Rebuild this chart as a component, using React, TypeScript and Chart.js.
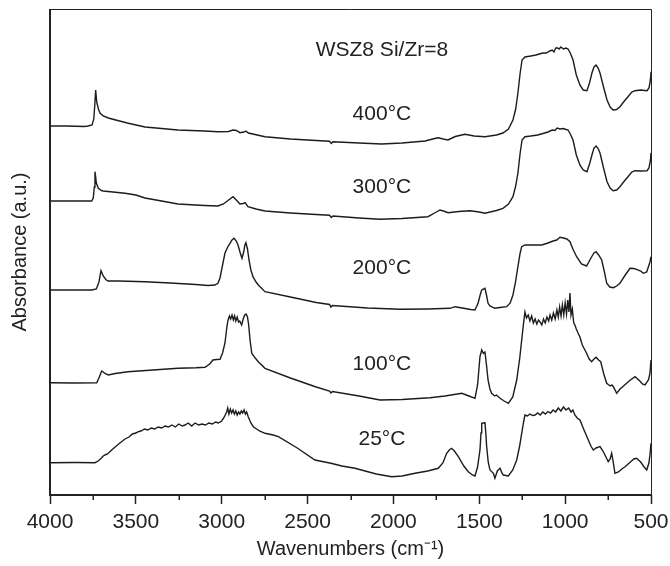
import React, { useEffect, useRef } from "react";
import { Chart, registerables } from "chart.js";

Chart.register(...registerables);

type P = [number, number];

// Spectra: [wavenumber (cm-1), absorbance (a.u., offset stack)]
const T400: P[] = [[4000,3.69],[3900,3.69],[3800,3.685],[3779,3.69],[3755,3.70],[3745,3.76],[3740,3.88],[3734,4.05],[3728,3.93],[3718,3.86],[3709,3.82],[3690,3.79],[3660,3.77],[3639,3.76],[3550,3.72],[3447,3.68],[3350,3.665],[3255,3.65],[3100,3.64],[3022,3.633],[2960,3.635],[2934,3.65],[2915,3.645],[2894,3.623],[2870,3.63],[2859,3.64],[2845,3.62],[2748,3.583],[2600,3.56],[2450,3.545],[2372,3.537],[2362,3.515],[2352,3.533],[2200,3.52],[2068,3.51],[1950,3.52],[1816,3.54],[1760,3.565],[1739,3.573],[1710,3.56],[1682,3.55],[1640,3.585],[1583,3.607],[1530,3.59],[1467,3.583],[1400,3.60],[1362,3.62],[1330,3.66],[1304,3.75],[1288,3.86],[1275,4.02],[1262,4.22],[1251,4.35],[1234,4.38],[1200,4.39],[1170,4.40],[1150,4.41],[1129,4.42],[1110,4.42],[1090,4.44],[1075,4.45],[1065,4.43],[1055,4.47],[1047,4.473],[1035,4.46],[1025,4.48],[1010,4.46],[995,4.47],[983,4.46],[970,4.42],[954,4.35],[935,4.2],[914,4.10],[895,4.05],[873,4.043],[858,4.12],[844,4.22],[832,4.28],[820,4.30],[808,4.27],[797,4.22],[775,4.07],[756,3.95],[738,3.88],[721,3.85],[700,3.855],[681,3.883],[655,3.94],[634,3.983],[612,4.03],[593,4.043],[560,4.05],[523,4.043],[512,4.07],[506,4.12],[502,4.18],[500,4.233]];

const T300: P[] = [[4000,2.94],[3850,2.94],[3757,2.94],[3748,2.97],[3742,3.08],[3738,3.233],[3730,3.12],[3719,3.067],[3700,3.045],[3690,3.04],[3563,3.017],[3500,3.00],[3447,2.97],[3350,2.94],[3255,2.91],[3100,2.895],[3022,2.89],[2990,2.91],[2960,2.95],[2934,2.983],[2915,2.95],[2894,2.91],[2875,2.915],[2864,2.923],[2847,2.883],[2800,2.86],[2748,2.84],[2600,2.82],[2450,2.805],[2372,2.797],[2362,2.775],[2352,2.79],[2200,2.77],[2078,2.757],[1950,2.765],[1799,2.783],[1760,2.82],[1729,2.85],[1700,2.835],[1682,2.823],[1620,2.835],[1554,2.843],[1500,2.83],[1467,2.817],[1400,2.845],[1362,2.867],[1330,2.91],[1304,2.983],[1288,3.09],[1275,3.22],[1262,3.42],[1251,3.55],[1234,3.583],[1200,3.59],[1160,3.60],[1129,3.615],[1100,3.63],[1075,3.65],[1060,3.645],[1047,3.67],[1030,3.66],[1010,3.665],[995,3.655],[983,3.65],[970,3.61],[954,3.55],[935,3.40],[914,3.30],[895,3.25],[873,3.233],[858,3.31],[844,3.40],[832,3.47],[820,3.49],[808,3.465],[797,3.42],[775,3.26],[756,3.133],[738,3.07],[721,3.043],[700,3.05],[681,3.083],[655,3.14],[634,3.183],[612,3.23],[593,3.243],[560,3.24],[523,3.243],[512,3.27],[506,3.32],[502,3.37],[500,3.42]];

const T200: P[] = [[4000,2.05],[3850,2.05],[3757,2.05],[3730,2.06],[3715,2.13],[3703,2.243],[3690,2.19],[3675,2.155],[3662,2.14],[3600,2.14],[3447,2.133],[3300,2.12],[3150,2.105],[3080,2.095],[3040,2.10],[3022,2.117],[3010,2.17],[2995,2.30],[2981,2.42],[2965,2.48],[2952,2.517],[2940,2.55],[2928,2.567],[2915,2.54],[2905,2.50],[2892,2.42],[2882,2.367],[2872,2.43],[2865,2.50],[2859,2.523],[2850,2.46],[2841,2.35],[2830,2.25],[2818,2.183],[2800,2.13],[2787,2.10],[2748,2.033],[2600,1.98],[2450,1.925],[2372,1.905],[2364,1.88],[2355,1.895],[2150,1.87],[1962,1.857],[1800,1.86],[1671,1.867],[1641,1.883],[1600,1.87],[1550,1.855],[1525,1.85],[1507,1.917],[1495,2.00],[1486,2.05],[1467,2.067],[1458,2.00],[1449,1.917],[1438,1.89],[1409,1.867],[1380,1.875],[1340,1.883],[1320,1.92],[1304,2.00],[1290,2.12],[1275,2.283],[1262,2.42],[1253,2.483],[1234,2.50],[1180,2.50],[1136,2.50],[1100,2.52],[1070,2.54],[1049,2.55],[1030,2.577],[1010,2.57],[990,2.56],[972,2.533],[955,2.46],[933,2.383],[905,2.31],[875,2.29],[850,2.37],[832,2.42],[820,2.433],[805,2.40],[787,2.35],[770,2.22],[758,2.117],[740,2.08],[719,2.073],[700,2.09],[681,2.117],[650,2.20],[622,2.267],[600,2.265],[584,2.257],[560,2.24],[545,2.217],[525,2.23],[515,2.283],[506,2.33],[500,2.383]];

const T100: P[] = [[4000,1.123],[3850,1.12],[3728,1.123],[3715,1.17],[3699,1.24],[3690,1.23],[3680,1.215],[3660,1.20],[3620,1.215],[3546,1.233],[3400,1.25],[3255,1.267],[3150,1.272],[3097,1.277],[3070,1.31],[3051,1.35],[3030,1.355],[3010,1.357],[2995,1.42],[2981,1.52],[2970,1.68],[2963,1.75],[2955,1.79],[2948,1.76],[2940,1.80],[2932,1.75],[2925,1.79],[2918,1.74],[2910,1.78],[2902,1.73],[2895,1.74],[2884,1.70],[2875,1.76],[2866,1.80],[2858,1.81],[2850,1.78],[2843,1.70],[2835,1.55],[2825,1.417],[2805,1.37],[2787,1.333],[2748,1.267],[2600,1.17],[2450,1.08],[2372,1.04],[2364,1.02],[2355,1.035],[2200,0.99],[2078,0.95],[1950,0.955],[1787,0.973],[1700,0.99],[1602,1.017],[1560,0.99],[1525,0.967],[1510,1.10],[1496,1.383],[1486,1.45],[1476,1.417],[1467,1.43],[1458,1.30],[1449,1.15],[1438,1.06],[1428,1.017],[1410,0.99],[1400,1.00],[1379,0.967],[1355,0.94],[1331,0.917],[1305,0.98],[1282,1.15],[1265,1.36],[1253,1.55],[1242,1.72],[1234,1.83],[1225,1.77],[1215,1.80],[1205,1.74],[1195,1.79],[1185,1.72],[1175,1.76],[1165,1.71],[1155,1.75],[1146,1.73],[1136,1.70],[1126,1.76],[1116,1.72],[1106,1.78],[1096,1.74],[1088,1.80],[1078,1.75],[1068,1.82],[1058,1.76],[1048,1.85],[1040,1.78],[1032,1.88],[1024,1.79],[1016,1.90],[1008,1.80],[1000,1.92],[992,1.81],[985,1.95],[978,1.83],[972,2.02],[966,1.80],[958,1.86],[950,1.72],[943,1.70],[935,1.66],[925,1.62],[914,1.58],[900,1.50],[888,1.46],[875,1.417],[860,1.36],[846,1.333],[832,1.36],[820,1.377],[805,1.35],[793,1.333],[775,1.21],[758,1.117],[738,1.09],[728,1.10],[719,1.083],[700,1.017],[680,1.06],[660,1.09],[642,1.117],[620,1.15],[593,1.183],[565,1.14],[550,1.11],[535,1.10],[515,1.15],[506,1.217],[500,1.35]];

const T25: P[] = [[4000,0.323],[3850,0.325],[3738,0.323],[3720,0.34],[3700,0.37],[3690,0.39],[3680,0.40],[3665,0.41],[3641,0.45],[3600,0.51],[3563,0.56],[3540,0.58],[3520,0.61],[3500,0.62],[3486,0.633],[3470,0.64],[3450,0.66],[3430,0.65],[3410,0.67],[3390,0.66],[3370,0.68],[3350,0.67],[3330,0.69],[3310,0.68],[3290,0.70],[3270,0.68],[3250,0.71],[3230,0.69],[3214,0.70],[3195,0.72],[3175,0.69],[3155,0.72],[3135,0.70],[3115,0.71],[3095,0.70],[3075,0.72],[3055,0.71],[3035,0.73],[3020,0.72],[3000,0.74],[2985,0.78],[2971,0.833],[2965,0.87],[2958,0.81],[2950,0.86],[2942,0.82],[2934,0.85],[2926,0.81],[2918,0.84],[2910,0.80],[2902,0.83],[2894,0.81],[2886,0.84],[2878,0.82],[2870,0.85],[2862,0.81],[2855,0.83],[2845,0.78],[2830,0.72],[2816,0.683],[2780,0.64],[2748,0.617],[2700,0.60],[2670,0.583],[2560,0.47],[2457,0.35],[2400,0.33],[2364,0.317],[2300,0.29],[2224,0.267],[2100,0.21],[2010,0.183],[1950,0.19],[1874,0.217],[1800,0.24],[1739,0.267],[1712,0.32],[1690,0.417],[1672,0.455],[1661,0.467],[1645,0.44],[1622,0.383],[1590,0.29],[1564,0.233],[1540,0.20],[1525,0.19],[1510,0.28],[1496,0.45],[1490,0.62],[1486,0.717],[1467,0.723],[1462,0.62],[1457,0.483],[1448,0.33],[1438,0.25],[1418,0.217],[1409,0.167],[1395,0.24],[1379,0.267],[1368,0.22],[1360,0.20],[1331,0.19],[1305,0.25],[1282,0.35],[1265,0.49],[1253,0.617],[1242,0.73],[1234,0.80],[1220,0.79],[1205,0.81],[1190,0.795],[1175,0.80],[1160,0.82],[1145,0.80],[1130,0.83],[1115,0.81],[1100,0.835],[1085,0.82],[1070,0.85],[1055,0.83],[1040,0.87],[1025,0.84],[1010,0.88],[995,0.85],[980,0.87],[965,0.83],[955,0.85],[943,0.80],[930,0.77],[914,0.75],[890,0.65],[865,0.55],[850,0.49],[836,0.45],[820,0.47],[797,0.483],[780,0.44],[768,0.40],[749,0.333],[738,0.36],[729,0.417],[720,0.33],[710,0.217],[690,0.23],[670,0.26],[651,0.283],[620,0.33],[600,0.36],[584,0.367],[560,0.33],[540,0.28],[525,0.25],[512,0.32],[505,0.42],[500,0.517]];

const SERIES: P[][] = [T400, T300, T200, T100, T25];
const SERIES_LABELS = ["400°C", "300°C", "200°C", "100°C", "25°C"];
const LABEL_LEVELS = [3.805, 3.075, 2.27, 1.31, 0.555];
const LABEL_WAVENUMBER = 2067;
const HEADER = "WSZ8 Si/Zr=8";
const HEADER_LEVEL = 4.45;
const MINOR_TICKS = [3750, 3250, 2750, 2250, 1750, 1250, 750];

const X_MIN = 500;
const X_MAX = 4000;
const Y_MIN = 0;
const Y_MAX = 4.86;

const FONT = '"Liberation Sans", Arial, Helvetica, sans-serif';
const INK = "#222222";

const decorPlugin = {
  id: "decor",
  afterDatasetsDraw(chart: any) {
    const { ctx, scales } = chart;
    const xs = scales.x;
    const ys = scales.y;
    ctx.save();
    ctx.fillStyle = INK;
    ctx.font = `21px ${FONT}`;
    ctx.textAlign = "center";
    ctx.textBaseline = "middle";
    const lx = xs.getPixelForValue(LABEL_WAVENUMBER);
    SERIES_LABELS.forEach((t, i) => {
      ctx.fillText(t, lx, ys.getPixelForValue(LABEL_LEVELS[i]));
    });
    ctx.fillText(HEADER, lx, ys.getPixelForValue(HEADER_LEVEL));
    ctx.restore();
  },
  afterDraw(chart: any) {
    const { ctx, chartArea, scales } = chart;
    const { left, right, top, bottom } = chartArea;
    const xs = scales.x;
    ctx.save();
    ctx.strokeStyle = INK;
    ctx.lineWidth = 1;
    ctx.beginPath();
    ctx.moveTo(left, top + 0.5);
    ctx.lineTo(right + 0.5, top + 0.5);
    ctx.lineTo(right + 0.5, bottom);
    ctx.stroke();
    ctx.lineWidth = 2;
    ctx.beginPath();
    ctx.moveTo(left, top);
    ctx.lineTo(left, bottom);
    ctx.lineTo(right + 1, bottom);
    ctx.stroke();
    ctx.lineWidth = 1.5;
    ctx.beginPath();
    MINOR_TICKS.forEach((v) => {
      const px = Math.round(xs.getPixelForValue(v)) + 0.25;
      ctx.moveTo(px, bottom);
      ctx.lineTo(px, bottom + 5);
    });
    ctx.stroke();
    ctx.restore();
  },
};

export default function App() {
  const canvasRef = useRef<HTMLCanvasElement | null>(null);

  useEffect(() => {
    document.body.style.margin = "0";
    const canvas = canvasRef.current;
    if (!canvas) return;
    const chart = new Chart(canvas, {
      type: "line",
      data: {
        datasets: SERIES.map((s, i) => ({
          label: SERIES_LABELS[i],
          data: s.map(([x, y]) => ({ x, y })),
          borderColor: "#1c1c1c",
          borderWidth: 1.4,
          pointRadius: 0,
          tension: 0,
          fill: false,
        })),
      },
      options: {
        responsive: false,
        animation: false,
        events: [],
        layout: { padding: { top: 9, right: 19, left: 0, bottom: 0 } },
        plugins: {
          legend: { display: false },
          tooltip: { enabled: false },
          title: { display: false },
        },
        scales: {
          x: {
            type: "linear",
            reverse: true,
            min: X_MIN,
            max: X_MAX,
            afterFit: (s: any) => {
              s.height = 71;
              s.paddingLeft = 0;
              s.paddingRight = 0;
            },
            border: { display: false },
            grid: {
              display: true,
              drawOnChartArea: false,
              drawTicks: true,
              tickLength: 9,
              tickWidth: 1.5,
              tickColor: (c: any) =>
                c.tick && c.tick.value % 500 === 0 ? INK : "rgba(0,0,0,0)",
            },
            ticks: {
              stepSize: 250,
              autoSkip: false,
              maxRotation: 0,
              padding: 6,
              color: INK,
              font: { size: 21, family: FONT },
              callback: (v: any) => (Number(v) % 500 === 0 ? String(v) : ""),
            },
            title: {
              display: true,
              text: "Wavenumbers (cm⁻¹)",
              color: INK,
              font: { size: 20, family: FONT, lineHeight: 1.2 },
              padding: { top: 0, bottom: 5 },
            },
          },
          y: {
            type: "linear",
            min: Y_MIN,
            max: Y_MAX,
            afterFit: (s: any) => {
              s.width = 50;
              s.paddingTop = 0;
              s.paddingBottom = 0;
            },
            border: { display: false },
            grid: { display: false, drawTicks: false },
            ticks: { display: false },
            title: {
              display: true,
              text: "Absorbance (a.u.)",
              color: INK,
              font: { size: 20, family: FONT, lineHeight: 1.2 },
              padding: { top: 8, bottom: 0 },
            },
          },
        },
      },
      plugins: [decorPlugin],
    } as any);
    return () => {
      chart.destroy();
    };
  }, []);

  return (
    <div style={{ width: 670, height: 566, background: "#ffffff" }}>
      <canvas ref={canvasRef} width={670} height={566} style={{ display: "block" }} />
    </div>
  );
}
